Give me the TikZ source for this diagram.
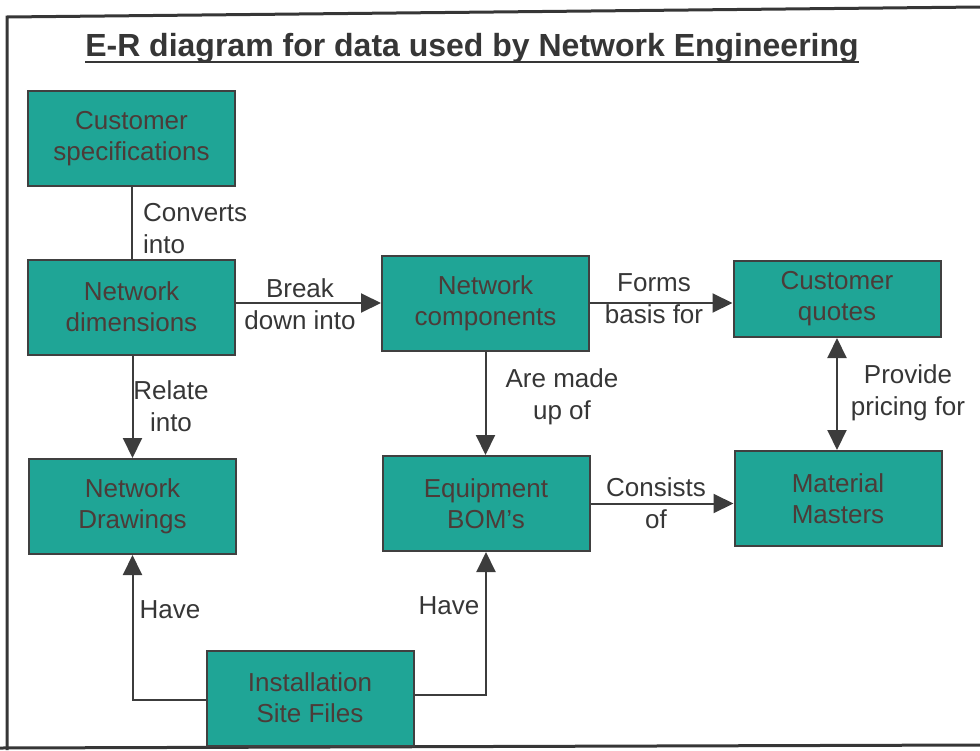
\documentclass[tikz,border=0pt]{standalone}
\usepackage{fontspec}
\setmainfont{Liberation Sans}
\usetikzlibrary{arrows.meta}

\definecolor{boxfill}{HTML}{1FA596}
\definecolor{boxedge}{HTML}{404040}
\definecolor{boxtext}{HTML}{4C3B38}
\definecolor{inkgray}{HTML}{363636}
\definecolor{linegray}{HTML}{3C3C3C}

\tikzset{
  entity/.style={draw=boxedge, line width=2pt, fill=boxfill, text=boxtext,
    font=\fontsize{26}{31}\selectfont, align=center,
    minimum width=207pt, minimum height=95pt, inner sep=0pt},
  rel/.style={text=inkgray, font=\fontsize{26}{32}\selectfont, align=center, inner sep=0pt},
  link/.style={draw=linegray, line width=2pt},
  arr/.style={link, -{Triangle[length=20pt,width=19pt]}},
  dblarr/.style={link, {Triangle[length=20pt,width=19pt]}-{Triangle[length=20pt,width=19pt]}},
  frame/.style={draw=inkgray, line width=3pt},
}

\begin{document}
\begin{tikzpicture}[x=1pt, y=-1pt]
\useasboundingbox (0,0) rectangle (980,750);

% page frame
\draw[frame] (7,750) -- (7,17) -- (980,7);
\draw[frame] (0,748) -- (980,745);

% title
\node[anchor=base, inner sep=0pt, text=inkgray,
      font=\fontsize{32}{38}\selectfont\bfseries] (title) at (472,56)
      {E-R diagram for data used by Network Engineering};
\draw[draw=inkgray, line width=2.2pt]
  ([yshift=-6pt]title.base west) -- ([yshift=-6pt]title.base east);

% entities
\node[entity] (cs)  at (131.5,138.5) {Customer\\specifications};
\node[entity] (nd)  at (131.5,307)   {Network\\dimensions};
\node[entity] (ndr) at (132.5,506.5) {Network\\Drawings};
\node[entity] (nc)  at (485.5,303)   {Network\\components};
\node[entity, minimum height=76pt] (cq) at (837,299) {Customer\\quotes};
\node[entity] (eb)  at (486,503.5)   {Equipment\\BOM’s};
\node[entity] (mm)  at (838,498.5)   {Material\\Masters};
\node[entity] (isf) at (310,698)     {Installation\\Site Files};

% relationships
\draw[link] (cs.south) -- (cs.south |- nd.north);
\node[rel, anchor=west, align=left] (l1) at (143,229) {Converts\\into};

\draw[arr] (nc.west -| nd.east) -- (nc.west);
\node[rel] (l2) at (300,304) {Break\\down into};

\draw[arr] (nc.east) -- (nc.east -| cq.west);
\node[rel] (l3) at (654,299) {Forms\\basis for};

\draw[arr] (nd.south -| ndr.north) -- (ndr.north);
\node[rel] (l4) at (171,406) {Relate\\into};

\draw[arr] (nc.south) -- (nc.south |- eb.north);
\node[rel] (l5) at (562,397) {Are made\\up of};

\draw[arr] (eb.east) -- (eb.east -| mm.west);
\node[rel] (l6) at (656,503) {Consists\\of};

\draw[dblarr] (cq.south) -- (cq.south |- mm.north);
\node[rel] (l7) at (908,393) {Provide\\pricing for};

\draw[arr] ([yshift=-2pt]isf.west) -| (ndr.south);
\node[rel] (l8) at (170,610) {Have};

\draw[arr] ([yshift=3pt]isf.east) -| (eb.south);
\node[rel] (l9) at (449,606) {Have};
\end{tikzpicture}
\end{document}
